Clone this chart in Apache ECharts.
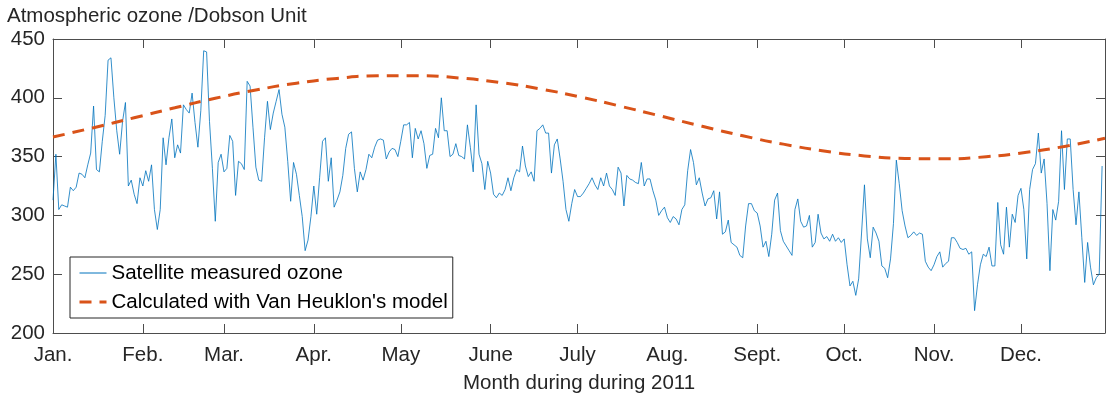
<!DOCTYPE html>
<html>
<head>
<meta charset="utf-8">
<script src="https://cdn.jsdelivr.net/npm/echarts@6/dist/echarts.min.js"></script>
<style>
html,body{margin:0;padding:0;background:#fff;}
#chart{width:1108px;height:399px;}
</style>
</head>
<body>
<div id="chart"></div>
<script>
// ---- data ----
const monthLabels = ['Jan.','Feb.','Mar.','Apr.','May','June','July','Aug.','Sept.','Oct.','Nov.','Dec.'];
const monthStartDays = [1,32,60,91,121,152,182,213,244,274,305,335];
const yTicks = [200,250,300,350,400,450];

// daily satellite ozone (DU), day 1 .. 363
const ozoneJan = [313,352,305,309,308,307,324,321,324,336,335,332,343,353,393,339,337,363,385,432,434,400,372,352,380,396,325,330,318,310,332];
const ozoneFeb = [325,338,329,343,305,288,305,366,343,366,382,349,360,353,394,390,387,404,379,358,389,440,439,380,340,295,345,352];
const ozoneMar = [337,340,368,363,317,346,344,339,414,410,375,341,330,329,366,397,373,387,397,407,386,375,346,312,345,335,317,299,270,279,299];
const ozoneApr = [325,301,332,363,366,329,349,307,313,320,334,357,369,371,340,320,337,330,339,352,349,358,364,365,364,348,354,357,356,350];
const ozoneMay = [363,377,377,379,349,374,365,372,361,340,351,352,374,366,400,372,372,350,352,361,351,350,348,377,358,337,394,352,344,322,346];
const ozoneJun = [336,318,315,319,317,322,332,321,332,339,337,359,342,333,337,329,372,374,377,370,370,336,360,365,348,329,305,295,310,322];
const ozoneJul = [316,316,319,323,327,332,326,322,332,325,336,325,322,317,341,336,308,334,331,330,328,327,345,325,331,331,321,313,300,304,307];
const ozoneAug = [298,294,299,297,292,305,309,338,356,345,326,332,319,308,314,315,321,297,320,284,286,296,277,275,273,266,264,291,310,310,304];
const ozoneSep = [302,291,273,278,265,284,313,319,287,278,274,270,266,305,314,295,290,291,300,273,277,301,285,280,282,278,284,278,281,277];
const ozoneOct = [280,258,240,244,232,246,285,326,280,264,290,285,278,257,255,247,263,293,347,327,304,291,281,283,286,283,285,284,261,256,253];
const ozoneNov = [258,265,269,256,259,261,281,281,277,272,271,272,267,269,219,241,258,267,265,273,257,257,311,275,267,307,273,301,294,317];
const ozoneDec = [323,305,263,322,339,344,370,336,348,310,253,305,296,312,372,322,365,365,322,292,320,281,243,277,256,241,247,250,342];

// Van Heuklon model curve, read at sampled days
const modelDays   = [1,15,29,43,57,71,85,99,113,127,141,155,169,183,197,211,225,239,253,267,281,295,309,323,337,351,364];
const modelValues = [366.7,374.6,383.0,391.5,399.6,406.6,412.4,416.5,418.7,418.8,416.9,413.1,407.6,400.7,392.7,384.3,375.8,367.7,360.6,354.8,350.6,348.4,348.1,349.9,353.7,359.1,365.6];

const seriesNames = ['Satellite measured ozone', "Calculated with Van Heuklon's model"];
const titleText = 'Atmospheric ozone /Dobson Unit';
const xTitle = 'Month during during 2011';

// ---- build ----
const ozone = [].concat(ozoneJan,ozoneFeb,ozoneMar,ozoneApr,ozoneMay,ozoneJun,ozoneJul,ozoneAug,ozoneSep,ozoneOct,ozoneNov,ozoneDec);
const ozonePairs = ozone.map((v,i)=>[i+1,v]);
const modelPairs = modelDays.map((d,i)=>[d,modelValues[i]]);

const FONT = 'Liberation Sans, Arial, Helvetica, sans-serif';
const FS = 20.5;
const TXT = '#262626';
const AX = '#4d4d4d';
const BLUE = '#0072BD';
const ORANGE = '#D95319';
const DASH = [12, 8];

const chart = echarts.init(document.getElementById('chart'), null, {renderer:'canvas'});
const axisLineStyle = {color: AX, width: 1};
chart.setOption({
  animation: false,
  backgroundColor: '#ffffff',
  textStyle: {fontFamily: FONT},
  title: {
    text: titleText, left: 2, top: 1,
    textStyle: {fontFamily: FONT, fontSize: FS, fontWeight: 'normal', color: TXT}
  },
  grid: {left: 53, right: 3, top: 39, bottom: 66, containLabel: false},
  legend: {
    orient: 'vertical', left: 70, top: 257,
    padding: [4, 5, 4, 8],
    itemWidth: 27, itemHeight: 14, itemGap: 5,
    backgroundColor: '#ffffff', borderColor: '#262626', borderWidth: 1,
    textStyle: {fontFamily: FONT, fontSize: FS, color: '#000', lineHeight: 24},
    data: [
      {name: seriesNames[0], itemStyle: {opacity: 0}, lineStyle: {color: BLUE, width: 1, type: 'solid'}},
      {name: seriesNames[1], itemStyle: {opacity: 0}, lineStyle: {color: ORANGE, width: 3, type: DASH}}
    ]
  },
  xAxis: [{
    type: 'value', min: 1, max: 364, position: 'bottom',
    name: xTitle, nameLocation: 'middle', nameGap: 40,
    nameTextStyle: {fontFamily: FONT, fontSize: FS, color: TXT},
    axisLine: {show: true, lineStyle: axisLineStyle},
    axisTick: {show: true, inside: true, length: 9, lineStyle: axisLineStyle, customValues: monthStartDays},
    axisLabel: {show: true, fontFamily: FONT, fontSize: FS, color: TXT, margin: 12,
      customValues: monthStartDays,
      formatter: v => monthLabels[monthStartDays.indexOf(Math.round(v))] || ''},
    splitLine: {show: false}
  },{
    type: 'value', min: 1, max: 364, position: 'top',
    axisLine: {show: true, lineStyle: axisLineStyle},
    axisTick: {show: true, inside: true, length: 9, lineStyle: axisLineStyle, customValues: monthStartDays},
    axisLabel: {show: false},
    splitLine: {show: false}
  }],
  yAxis: [{
    type: 'value', min: 200, max: 450, interval: 50, position: 'left',
    axisLine: {show: true, lineStyle: axisLineStyle},
    axisTick: {show: true, inside: true, length: 9, lineStyle: axisLineStyle},
    axisLabel: {show: true, fontFamily: FONT, fontSize: FS, color: TXT, margin: 8},
    splitLine: {show: false}
  },{
    type: 'value', min: 200, max: 450, interval: 50, position: 'right',
    axisLine: {show: true, lineStyle: axisLineStyle},
    axisTick: {show: true, inside: true, length: 9, lineStyle: axisLineStyle},
    axisLabel: {show: false},
    splitLine: {show: false}
  }],
  series: [{
    name: seriesNames[0], type: 'line', xAxisIndex: 0, yAxisIndex: 0,
    data: ozonePairs, showSymbol: false, symbol: 'none',
    lineStyle: {color: BLUE, width: 0.8},
    itemStyle: {color: BLUE},
    z: 2
  },{
    name: seriesNames[1], type: 'line', xAxisIndex: 0, yAxisIndex: 0,
    data: modelPairs, showSymbol: false, symbol: 'none', smooth: true,
    lineStyle: {color: ORANGE, width: 3, type: DASH},
    itemStyle: {color: ORANGE},
    z: 3
  }]
});
</script>
</body>
</html>
